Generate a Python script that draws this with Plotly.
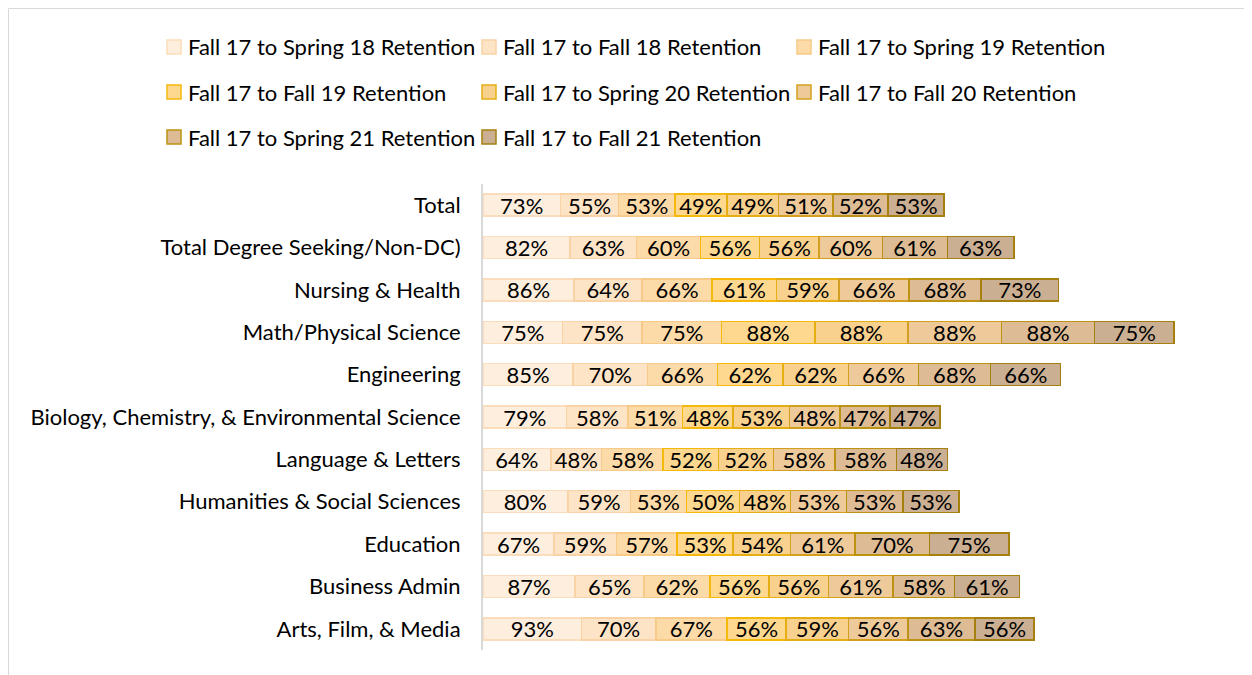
import plotly.graph_objects as go

categories = [
    "Total",
    "Total Degree Seeking/Non-DC)",
    "Nursing & Health",
    "Math/Physical Science",
    "Engineering",
    "Biology, Chemistry, & Environmental Science",
    "Language & Letters",
    "Humanities & Social Sciences",
    "Education",
    "Business Admin",
    "Arts, Film, & Media",
]

series_names = [
    "Fall 17 to Spring 18 Retention",
    "Fall 17 to Fall 18 Retention",
    "Fall 17 to Spring 19 Retention",
    "Fall 17 to Fall 19 Retention",
    "Fall 17 to Spring 20 Retention",
    "Fall 17 to Fall 20 Retention",
    "Fall 17 to Spring 21 Retention",
    "Fall 17 to Fall 21 Retention",
]

sp18 = [73, 82, 86, 75, 85, 79, 64, 80, 67, 87, 93]
fa18 = [55, 63, 64, 75, 70, 58, 48, 59, 59, 65, 70]
sp19 = [53, 60, 66, 75, 66, 51, 58, 53, 57, 62, 67]
fa19 = [49, 56, 61, 88, 62, 48, 52, 50, 53, 56, 56]
sp20 = [49, 56, 59, 88, 62, 53, 52, 48, 54, 56, 59]
fa20 = [51, 60, 66, 88, 66, 48, 58, 53, 61, 61, 56]
sp21 = [52, 61, 68, 88, 68, 47, 58, 53, 70, 58, 63]
fa21 = [53, 63, 73, 75, 66, 47, 48, 53, 75, 61, 56]

series_values = [sp18, fa18, sp19, fa19, sp20, fa20, sp21, fa21]

fills = ["#FDEEDD", "#FEE4C6", "#FDDBA8", "#FED88E", "#F9D18E", "#EECA9A", "#DDBC95", "#CBAF92"]
lines = ["#FBDDBB", "#F9D3A6", "#F8CA88", "#F4B90A", "#E5AE12", "#D2A01E", "#BC9212", "#A6800F"]

FONT = "Lato"
FS = 22
OFF = 8  # page body margin offset
W, H = 1252, 675
ML = 483 - OFF
MT = 184 - OFF
MB = H - (650 - OFF)
MR = 20
PW = W - ML - MR
PH = H - MT - MB

fig = go.Figure()
for name, vals, fc, lc in zip(series_names, series_values, fills, lines):
    fig.add_trace(go.Bar(
        name=name,
        y=categories,
        x=vals,
        orientation="h",
        marker=dict(color=fc, line=dict(color=lc, width=1.5)),
        text=[f"{v}%" for v in vals],
        textposition="inside",
        insidetextanchor="middle",
        textangle=0,
        textfont=dict(family=FONT, size=FS, color="#000000"),
        showlegend=False,
        hoverinfo="skip",
    ))

# manual legend (positions in page pixels, converted to paper coords)
def px_to_paper_x(px):
    return (px - OFF - ML) / PW

def px_to_paper_y(py):
    return (H - MB - (py - OFF)) / PH

legend_pos = [
    (167, 47), (482, 47), (797, 47),
    (167, 92), (482, 92), (797, 92),
    (167, 137), (482, 137),
]
shapes = []
annotations = []
for (bx, by), name, fc, lc in zip(legend_pos, series_names, fills, lines):
    shapes.append(dict(
        type="rect", xref="paper", yref="paper",
        x0=px_to_paper_x(bx), x1=px_to_paper_x(bx + 14),
        y0=px_to_paper_y(by + 7), y1=px_to_paper_y(by - 7),
        fillcolor=fc, line=dict(color=lc, width=1.5),
    ))
    annotations.append(dict(
        xref="paper", yref="paper",
        x=px_to_paper_x(bx + 19), y=px_to_paper_y(by),
        xanchor="left", yanchor="middle",
        text=name, showarrow=False,
        font=dict(family=FONT, size=FS, color="#000000"),
    ))

# outer chart frame (figure edge)
shapes.append(dict(
    type="rect", xref="paper", yref="paper",
    x0=px_to_paper_x(OFF + 0.5), x1=px_to_paper_x(OFF + W - 0.5),
    y0=px_to_paper_y(OFF + H - 0.5), y1=px_to_paper_y(OFF + 0.5),
    fillcolor="rgba(0,0,0,0)", line=dict(color="#D9D9D9", width=1),
    layer="below",
))

fig.update_layout(
    barmode="stack",
    bargap=0.48,
    width=W, height=H,
    margin=dict(l=ML, r=MR, t=MT, b=MB),
    paper_bgcolor="white",
    plot_bgcolor="white",
    font=dict(family=FONT, size=FS, color="#000000"),
    shapes=shapes,
    annotations=annotations,
    uniformtext=dict(minsize=FS, mode="show"),
)
fig.update_xaxes(range=[0, PW / 1.06], showgrid=False, zeroline=False,
                 showticklabels=False, showline=False, fixedrange=True)
fig.update_yaxes(autorange="reversed", showgrid=False, zeroline=False,
                 showline=True, linecolor="#D9D9D9", linewidth=2,
                 ticks="", ticklabelstandoff=16,
                 tickfont=dict(family=FONT, size=FS, color="#000000"))

fig.write_html("out.html")
